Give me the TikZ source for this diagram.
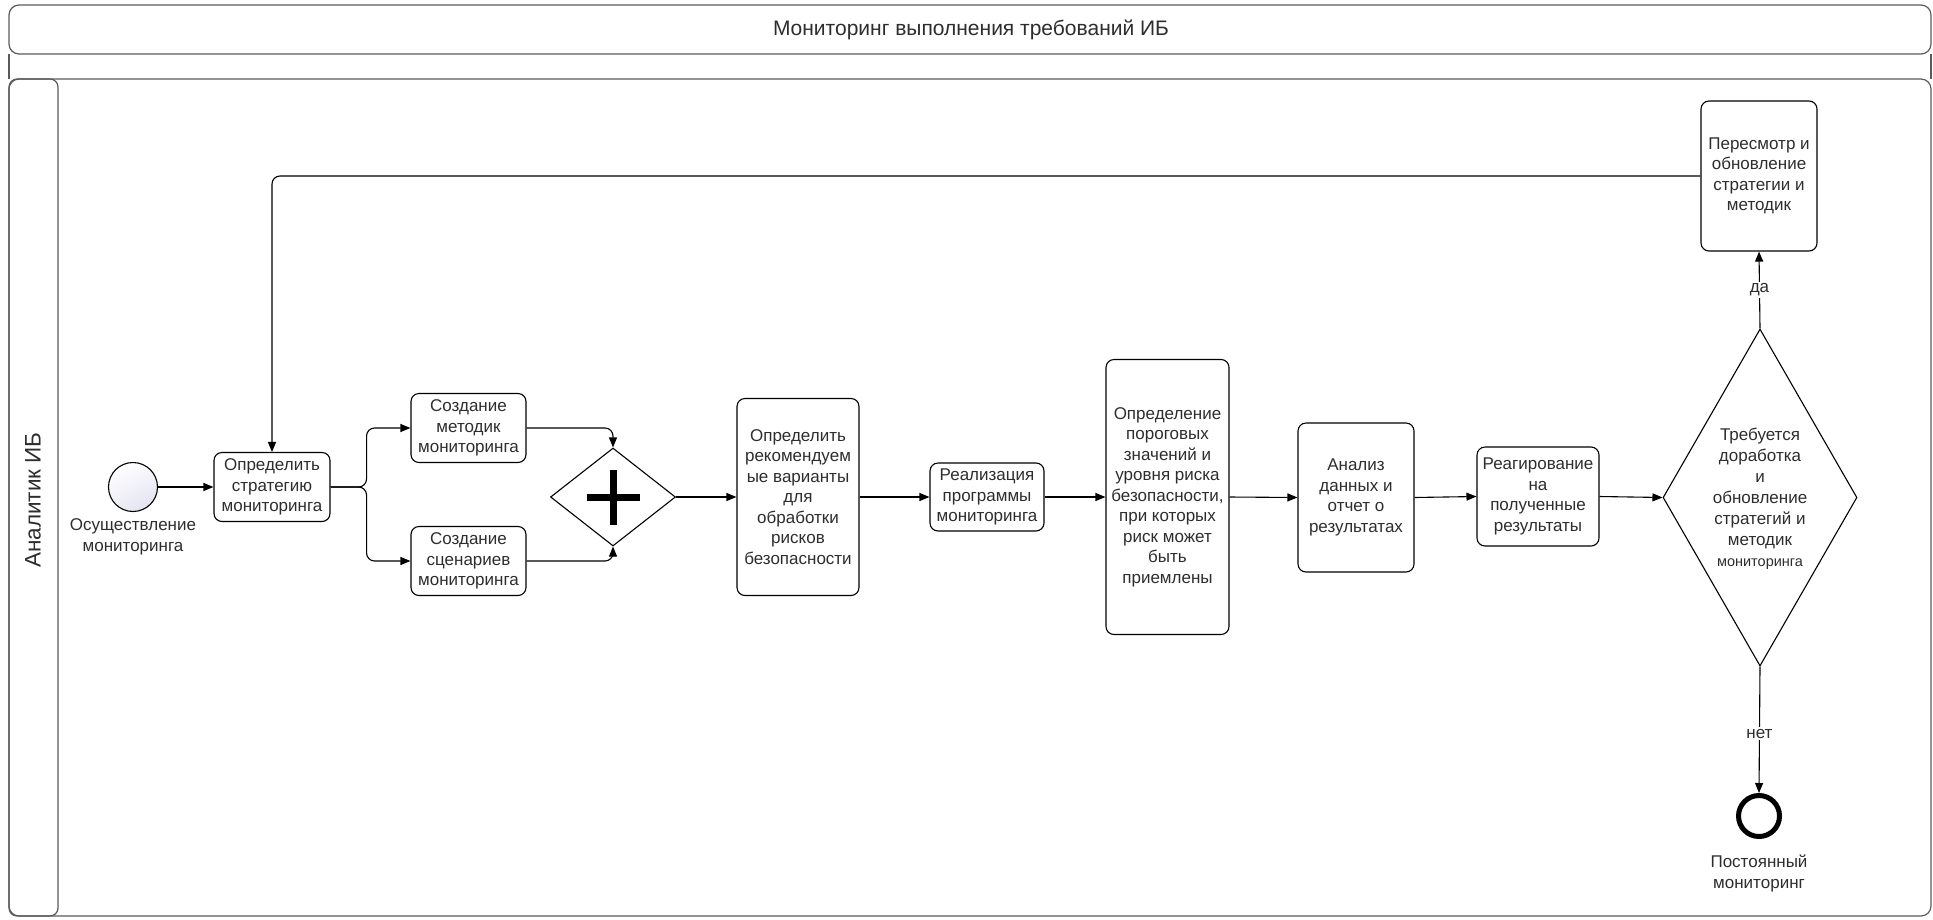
\documentclass[tikz,border=0pt]{standalone}
\usepackage{fontspec}
\setmainfont{Liberation Sans}
\usetikzlibrary{shapes.geometric,arrows.meta}
\definecolor{txt}{RGB}{45,45,45}
\definecolor{pool}{RGB}{90,90,90}
\definecolor{startfill}{RGB}{228,228,242}
\begin{document}
\begin{tikzpicture}[x=1pt,y=-1pt,
  task/.style={draw=black,line width=1.1pt,rounded corners=8pt,inner sep=0pt,align=center,text=txt,
    font=\fontsize{17}{20.5}\selectfont},
  flow/.style={draw=black,line width=1.1pt,-{Triangle[length=10pt,width=8pt]}},
  lbl/.style={text=txt,align=center,font=\fontsize{17}{20.5}\selectfont,inner sep=1pt},
  gate/.style={draw=black,line width=1.1pt,diamond,inner sep=0pt}]
\useasboundingbox (0,0) rectangle (1933,919);
% pool
\draw[pool,line width=1.2pt,rounded corners=10pt] (9,5) rectangle (1931,54);
\draw[pool,line width=1.2pt] (9,54) -- (9,79) (1931,54) -- (1931,79);
\draw[pool,line width=1.2pt,rounded corners=10pt] (9,79) rectangle (1931,916);
\draw[pool,line width=1.2pt,rounded corners=8pt] (9,79) rectangle (58,916);
\node[lbl,font=\fontsize{21}{24}\selectfont] (title) at (971,30) {Мониторинг выполнения требований ИБ};
\node[lbl,font=\fontsize{22.5}{26}\selectfont,rotate=90] (lane) at (33,500) {Аналитик ИБ};
% nodes
\node[circle,draw=black,line width=1.1pt,minimum size=49pt,inner sep=0pt,
  shading=axis,top color=white,bottom color=startfill,shading angle=30] (start) at (133,487) {};
\node[lbl] (startl) at (133,537) {Осуществление\\мониторинга};
\node[task,minimum width=116pt,minimum height=69pt] (def) at (272,487) {Определить\\стратегию\\мониторинга};
\node[task,minimum width=115pt,minimum height=69pt] (met) at (468.5,428) {Создание\\методик\\мониторинга};
\node[task,minimum width=115pt,minimum height=69pt] (scn) at (468.5,561) {Создание\\сценариев\\мониторинга};
\node[gate,minimum width=125pt,minimum height=98pt] (gw) at (613,497) {};
\draw[line width=7pt] ([xshift=-26.5pt]gw.center) -- ([xshift=26.5pt]gw.center);
\draw[line width=7pt] ([yshift=-27.5pt]gw.center) -- ([yshift=27.5pt]gw.center);
\node[task,minimum width=122pt,minimum height=197pt] (rec) at (798,497) {Определить\\рекомендуем\\ые варианты\\для\\обработки\\рисков\\безопасности};
\node[task,minimum width=114pt,minimum height=68pt] (real) at (987,497) {Реализация\\программы\\мониторинга};
\node[task,minimum width=123pt,minimum height=275pt] (thr) at (1167.5,497) {Определение\\пороговых\\значений и\\уровня риска\\безопасности,\\при которых\\риск может\\быть\\приемлены};
\node[task,minimum width=116pt,minimum height=149pt] (ana) at (1356,497.5) {Анализ\\данных и\\отчет о\\результатах};
\node[task,minimum width=122pt,minimum height=99pt] (rea) at (1538,496.5) {Реагирование\\на\\полученные\\результаты};
\node[gate,minimum width=194pt,minimum height=337pt] (dec) at (1760,497.5) {};
\node[lbl,font=\fontsize{17}{21}\selectfont] (dect) at (1760,499) {Требуется\\доработка\\и\\обновление\\стратегий и\\методик\\{\fontsize{14.5}{21}\selectfont мониторинга}};
\node[task,minimum width=116pt,minimum height=150pt] (rev) at (1759,176) {Пересмотр и\\обновление\\стратегии и\\методик};
\node[circle,draw=black,line width=5pt,minimum size=41pt,inner sep=0pt] (end) at (1759,816) {};
\node[lbl] (endl) at (1759,873.5) {Постоянный\\мониторинг};
% connectors
\draw[flow] (start) -- (def);
\draw[flow,rounded corners=8pt] (def.east) -- ++(36,0) |- (met.west);
\draw[flow,rounded corners=8pt] (def.east) -- ++(36,0) |- (scn.west);
\draw[flow,rounded corners=8pt] (met.east) -| (gw.north);
\draw[flow,rounded corners=8pt] (scn.east) -| (gw.south);
\draw[flow] (gw.east) -- (rec.west);
\draw[flow] (rec.east) -- (real.west);
\draw[flow] (real.east) -- (thr.west);
\draw[flow] (thr.east) -- (ana.west);
\draw[flow] (ana.east) -- (rea.west);
\draw[flow] (rea.east) -- (dec.west);
\draw[flow] (dec.north) -- node[lbl,fill=white,inner sep=2pt] {да} (rev.south);
\draw[flow] (dec.south) -- node[lbl,fill=white,inner sep=2pt,pos=0.53] {нет} (end.north);
\draw[flow,rounded corners=8pt] (rev.west) -| (def.north);
\end{tikzpicture}
\end{document}
